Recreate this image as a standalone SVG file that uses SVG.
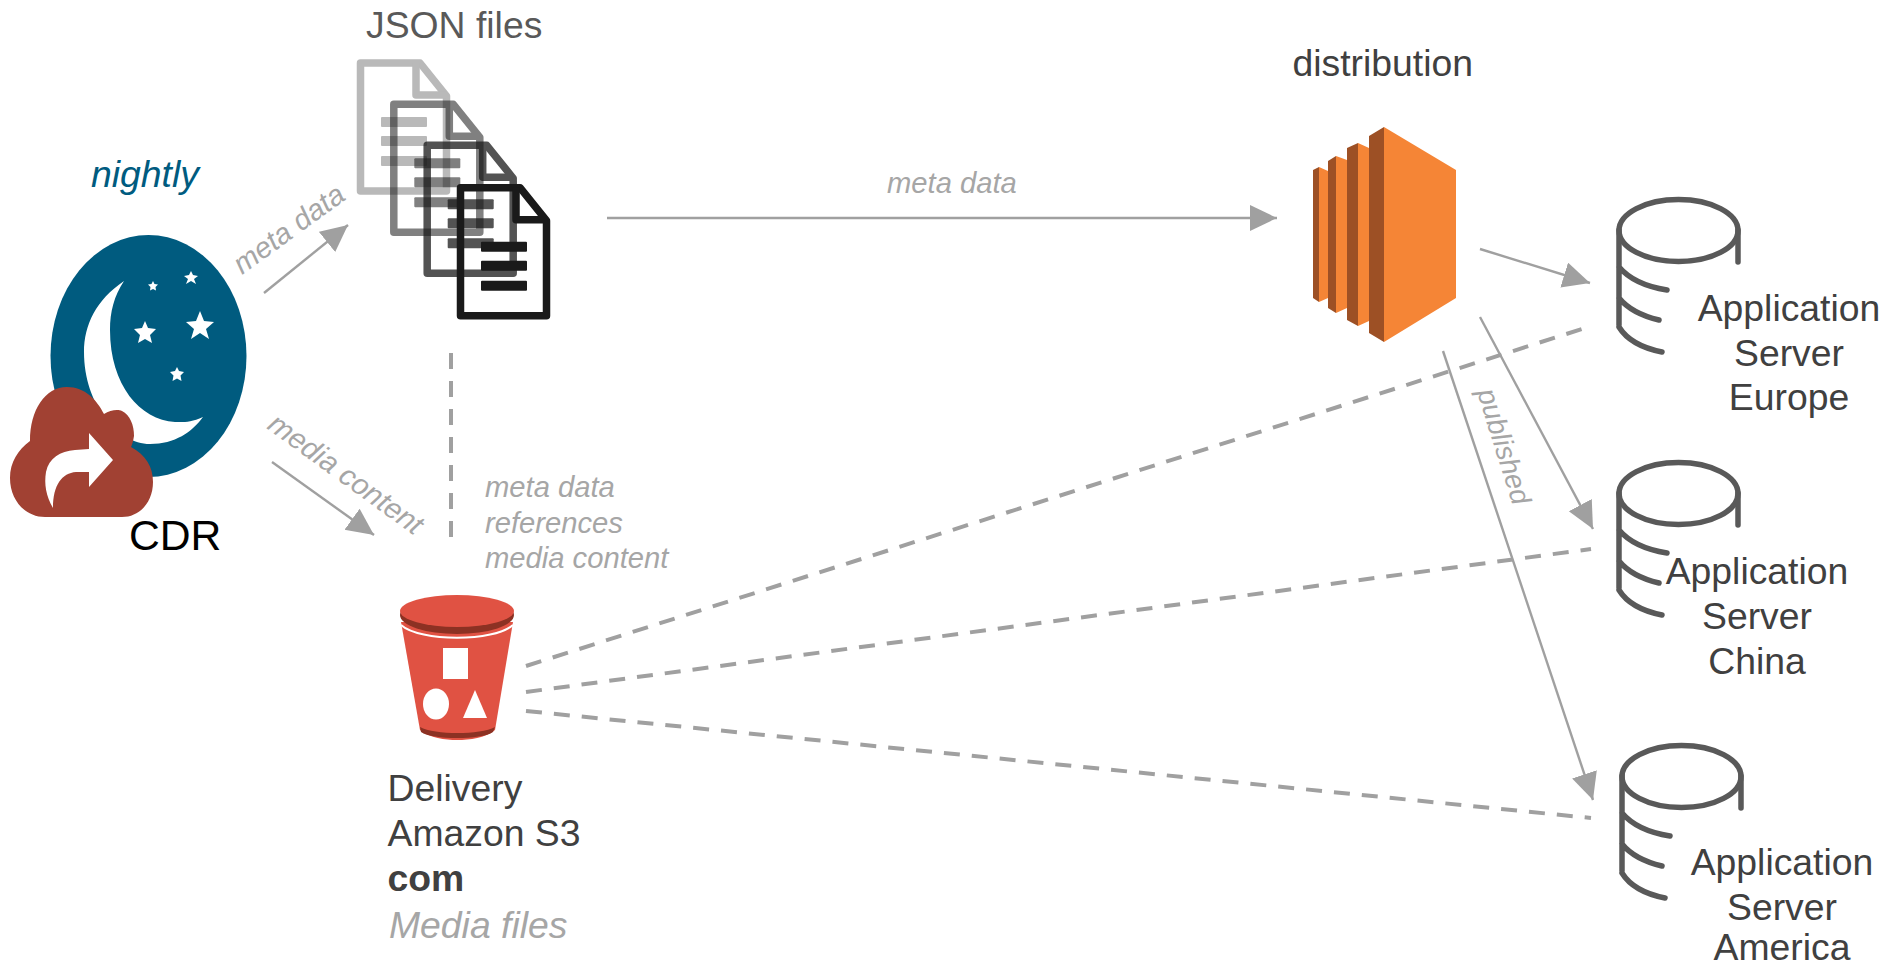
<svg xmlns="http://www.w3.org/2000/svg" xmlns:xlink="http://www.w3.org/1999/xlink" width="1899" height="968" viewBox="0 0 1899 968">
<style>
text{font-family:"Liberation Sans",Arial,sans-serif}
.t{font-size:37.33px;fill:#404040}
.c{text-anchor:middle}
.s{font-size:29.2px;font-style:italic;fill:#a6a6a6}
.arrow{fill:none;stroke:#a0a0a0;stroke-width:2.4;marker-end:url(#ah)}
.dash{fill:none;stroke:#a0a0a0;stroke-width:4;stroke-dasharray:16 12}
.doc{fill:none;stroke:#1a1a1a;stroke-width:7.500;stroke-linejoin:round}
.docl{fill:#1a1a1a}
.db{fill:none;stroke:#595959;stroke-width:5.500;stroke-linecap:round}
</style>
<defs>
<marker id="ah" markerUnits="userSpaceOnUse" markerWidth="30" markerHeight="28" refX="27" refY="13" orient="auto"><path d="M0 0L27 13L0 26Z" fill="#a0a0a0"/></marker>
<g id="docshape">
<path class="doc" d="M360.500 63H420L446.500 96V191H360.500Z"/>
<path class="doc" d="M416 63V95H446"/>
<rect class="docl" x="381" y="117" width="46" height="10" rx="1"/>
<rect class="docl" x="381" y="136" width="46" height="10" rx="1"/>
<rect class="docl" x="381" y="156" width="46" height="10" rx="1"/>
</g>
<g id="dbshape">
<ellipse class="db" cx="1678.500" cy="230.500" rx="59.500" ry="31"/>
<path class="db" d="M1619 230V325M1738 230V262M1619 267C1630 280 1648 287 1667 290M1619 298C1628 309 1642 316 1659 320M1619 327C1627 340 1642 348 1662 352"/>
</g>
</defs>
<g id="connectors">
<path class="arrow" d="M264 293L348 225"/>
<path class="arrow" d="M272 462L374 535"/>
<path class="arrow" d="M607 218H1277"/>
<path class="arrow" d="M1480 249L1590 283"/>
<path class="arrow" d="M1480 317L1593 529"/>
<path class="arrow" d="M1443 351L1593 800"/>
<path class="dash" d="M451 353V538"/>
<path class="dash" d="M526 666L1582 329"/>
<path class="dash" d="M526 692L1591 549"/>
<path class="dash" d="M526 711L1591 818"/>
</g>
<g id="cdr">
<text x="91" y="187" font-size="37.33" font-style="italic" fill="#005b7f">nightly</text>
<ellipse cx="148.500" cy="356" rx="98" ry="121" fill="#005b7f"/>
<path fill="#fff" d="M124 281C96 300 84 325 84 352C84 405 118 444 150 444C175 444 192 432 203 417C190 423 182 422 175 422C140 420 110 385 110 330C110 312 114 296 124 281Z"/>
<g fill="#fff">
<path d="M200 311L204 321L214 322L206 329L209 339L200 333L191 339L194 329L186 322L196 321Z"/>
<path d="M145 321L148 328L156 329L150 335L152 343L145 339L138 343L140 335L134 329L142 328Z"/>
<path d="M191 271L193 275L198 276L194 279L196 284L191 281L186 284L188 279L184 276L189 275Z"/>
<path d="M153 281L154.500 284L158 284.500L155.500 287L156 290.500L153 289L150 290.500L150.500 287L148 284.500L151.500 284Z"/>
<path d="M177 367L179 371L184 372L180.500 375.500L181.500 381L177 378.500L172.500 381L173.500 375.500L170 372L175 371Z"/>
</g>
<path fill="#a14133" d="M45 517C25 517 10 500 10 478C10 462 18 450 30 441C30 410 45 387 67 387C85 387 97 400 104 414C110 410 118 409 122 411C130 415 134 425 134 436C133 442 132 445 131 447C146 455 153 467 153 482C153 502 140 517 122 517Z"/>
<path fill="#fff" d="M53 508C46 496 44 484 46 472C49 458 60 451 75 450L89 449V433L113 460L89 487V472L76 472C62 473 53 485 53 508Z"/>
<text x="129" y="550" font-size="42.67" fill="#000">CDR</text>
</g>
<g id="json-files">
<text class="t" x="366" y="38" style="fill:#595959">JSON files</text>
<use xlink:href="#docshape" href="#docshape" opacity="0.3"/>
<use xlink:href="#docshape" href="#docshape" transform="translate(33.300 41.300)" opacity="0.55"/>
<use xlink:href="#docshape" href="#docshape" transform="translate(66.700 82.300)" opacity="0.75"/>
<use xlink:href="#docshape" href="#docshape" transform="translate(100 124.700)"/>
</g>
<g id="distribution">
<text class="t" x="1292.500" y="76">distribution</text>
<path fill="#9d5025" d="M1313 170L1319 167V302L1313 298ZM1328 161L1336 156V313L1328 308ZM1347 148L1358 143V326L1347 320ZM1369 136L1384 127V342L1369 333Z"/>
<path fill="#f58536" d="M1319 167L1328 171V298L1319 302ZM1336 156L1347 160V308L1336 313ZM1358 143L1369 148V321L1358 326ZM1384 127L1456 170V298L1384 342Z"/>
</g>
<g id="s3">
<path fill="#e05243" d="M401 622L420 730C430 738 445 740 457 740C470 740 485 738 495 730L513 622Z"/>
<path fill="#8c3123" d="M420 727C435 735 480 735 495 727L493 732C482 740 432 740 421 732Z"/>
<path fill="none" stroke="#fff" stroke-width="2" d="M401 625C420 642 494 642 513 625"/>
<ellipse cx="457" cy="615" rx="57" ry="19" fill="#8c3123"/>
<ellipse cx="457" cy="611" rx="57" ry="16" fill="#e05243"/>
<rect x="443" y="648" width="25" height="31" fill="#fff"/>
<ellipse cx="436" cy="704" rx="13" ry="15.500" fill="#fff"/>
<path fill="#fff" d="M475 690L487 718H463Z"/>
<text class="t" x="387.500" y="801">Delivery</text>
<text class="t" x="387.500" y="846">Amazon S3</text>
<text class="t" x="387.500" y="891" font-weight="700">com</text>
<text class="t" x="389" y="938" font-style="italic" style="fill:#a6a6a6">Media files</text>
</g>
<g id="server-europe">
<use xlink:href="#dbshape" href="#dbshape"/>
<text class="t c" x="1789" y="321">Application</text>
<text class="t c" x="1789" y="366">Server</text>
<text class="t c" x="1789" y="410">Europe</text>
</g>
<g id="server-china">
<use xlink:href="#dbshape" href="#dbshape" transform="translate(0 263)"/>
<text class="t c" x="1757" y="584">Application</text>
<text class="t c" x="1757" y="629">Server</text>
<text class="t c" x="1757" y="674">China</text>
</g>
<g id="server-america">
<use xlink:href="#dbshape" href="#dbshape" transform="translate(3 546)"/>
<text class="t c" x="1782" y="875">Application</text>
<text class="t c" x="1782" y="920">Server</text>
<text class="t c" x="1782" y="960">America</text>
</g>
<g id="labels">
<text class="s" x="887" y="193">meta data</text>
<text class="s" transform="translate(242 275) rotate(-36)">meta data</text>
<text class="s" transform="translate(266 428) rotate(36)">media content</text>
<text class="s" transform="translate(1477 392) rotate(72.500)" style="font-size:28px">published</text>
<text class="s" x="485" y="497">meta data</text>
<text class="s" x="485" y="533">references</text>
<text class="s" x="485" y="568">media content</text>
</g>
</svg>
